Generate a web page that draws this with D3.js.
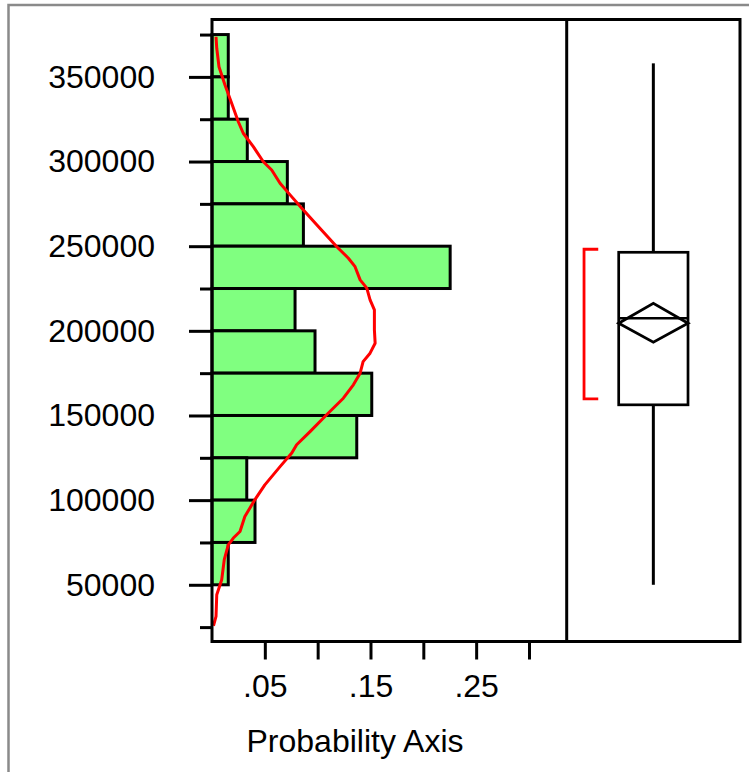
<!DOCTYPE html>
<html>
<head>
<meta charset="utf-8">
<script src="https://cdn.jsdelivr.net/npm/d3@7"></script>
<style>
  html, body { margin: 0; padding: 0; background: #fff; }
  svg { display: block; }
  text { font-family: "Liberation Sans", Arial, Helvetica, sans-serif; fill: #000; }
</style>
</head>
<body>
<script>
// ---------------- DATA ----------------
// Histogram bins (lower edge, upper edge) and probability (bar length)
const binLow  = [350000, 325000, 300000, 275000, 250000, 225000, 200000, 175000, 150000, 125000, 100000, 75000, 50000];
const binHigh = [375000, 350000, 325000, 300000, 275000, 250000, 225000, 200000, 175000, 150000, 125000, 100000, 75000];
const binProb = [0.0154, 0.0154, 0.0334, 0.0713, 0.0865, 0.2254, 0.0786, 0.0975, 0.1512, 0.1370, 0.0329, 0.0407, 0.0154];

// Density curve (value, density)
const curveValue = [373700, 366900, 356000, 345200, 335400, 323500, 316700, 308800, 299900, 295000,
                    287200, 280300, 272400, 262600, 249700, 242900, 237900, 230100, 225200, 218300,
                    212400, 200600, 192700, 186800, 181800, 175000, 168100, 160200, 150400, 140500,
                    132700, 127800, 119800, 109000, 100200, 90300, 81500, 77600, 73600, 64800,
                    53000, 44100, 31300, 25800];
const curveDensity = [0.0038, 0.0045, 0.0066, 0.0123, 0.0180, 0.0249, 0.0296, 0.0391, 0.0486, 0.0565,
                      0.0644, 0.0739, 0.0850, 0.0991, 0.1181, 0.1291, 0.1354, 0.1402, 0.1465, 0.1496,
                      0.1537, 0.1537, 0.1544, 0.1496, 0.1430, 0.1402, 0.1338, 0.1243, 0.1085, 0.0928,
                      0.0801, 0.0755, 0.0644, 0.0500, 0.0405, 0.0311, 0.0265, 0.0202, 0.0154, 0.0116,
                      0.0092, 0.0045, 0.0038, 0.0014];

// Outlier box plot summary
const boxStats = ["whiskerLow", "q1", "median", "q3", "whiskerHigh"];
const boxValues = [50000, 156300, 207500, 246400, 358000];
const meanValue = 204500;
const meanCI = [193300, 216300];
const shortestHalf = [159800, 248200];

// Axis ticks
const yMajorTicks = [50000, 100000, 150000, 200000, 250000, 300000, 350000];
const yMinorTicks = [25000, 75000, 125000, 175000, 225000, 275000, 325000, 375000];
const xTicks = [0.05, 0.10, 0.15, 0.20, 0.25, 0.30];
const xTickLabels = [".05", "", ".15", "", ".25", ""];
const xAxisTitle = "Probability Axis";

// ---------------- LAYOUT ----------------
const W = 749, H = 772;
const pLeft = 212, pTop = 19.5, pDivider = 566.7, pRight = 740, pBottom = 641.5;
const FS = 32;

const svg = d3.select("body").append("svg").attr("width", W).attr("height", H);

// outer gray frame
svg.append("rect")
  .attr("x", 8.5).attr("y", 5).attr("width", 900).attr("height", 900)
  .attr("fill", "none").attr("stroke", "#8a8a8a").attr("stroke-width", 2.5);

const y = d3.scaleLinear().domain([16500, 383900]).range([pBottom, pTop]);
const x = d3.scaleLinear().domain([0, 0.3357]).range([pLeft, pDivider]);
const bx = d3.scaleLinear().domain([0, 1]).range([pDivider, pRight]);

// histogram bars
svg.append("g").selectAll("rect")
  .data(binProb.map((p, i) => ({p, lo: binLow[i], hi: binHigh[i]})))
  .join("rect")
  .attr("x", x(0))
  .attr("y", d => y(d.hi))
  .attr("width", d => x(d.p) - x(0))
  .attr("height", d => y(d.lo) - y(d.hi))
  .attr("fill", "#80ff80")
  .attr("stroke", "#000")
  .attr("stroke-width", 3);

// density curve
const line = d3.line().x(d => x(d[1])).y(d => y(d[0]));
svg.append("path")
  .datum(curveValue.map((v, i) => [v, curveDensity[i]]))
  .attr("d", line)
  .attr("fill", "none")
  .attr("stroke", "#ff0000")
  .attr("stroke-width", 3)
  .attr("stroke-linejoin", "round");

// Y axis (major + minor ticks)
const yMajor = svg.append("g").attr("transform", `translate(${pLeft},0)`)
  .call(d3.axisLeft(y).tickValues(yMajorTicks).tickSize(23).tickPadding(34).tickFormat(d3.format("d")));
const yMinor = svg.append("g").attr("transform", `translate(${pLeft},0)`)
  .call(d3.axisLeft(y).tickValues(yMinorTicks).tickSize(12).tickFormat(""));
[yMajor, yMinor].forEach(g => {
  g.select(".domain").remove();
  g.selectAll(".tick line").attr("stroke", "#000").attr("stroke-width", 3);
});
yMajor.selectAll(".tick text").attr("font-size", FS).attr("font-family", null).attr("fill", "#000");

// X axis
const xAx = svg.append("g").attr("transform", `translate(0,${pBottom})`)
  .call(d3.axisBottom(x).tickValues(xTicks).tickSize(18).tickFormat((d, i) => xTickLabels[i]));
xAx.select(".domain").remove();
xAx.selectAll(".tick line").attr("stroke", "#000").attr("stroke-width", 3);
xAx.selectAll(".tick text").attr("font-size", FS).attr("font-family", null)
  .attr("fill", "#000").attr("y", 697 - pBottom).attr("dy", 0);

// axis title
svg.append("text")
  .attr("x", 355).attr("y", 752)
  .attr("text-anchor", "middle").attr("font-size", FS)
  .text(xAxisTitle);

// frames
svg.append("rect")
  .attr("x", pLeft).attr("y", pTop).attr("width", pRight - pLeft).attr("height", pBottom - pTop)
  .attr("fill", "none").attr("stroke", "#000").attr("stroke-width", 3);
svg.append("line")
  .attr("x1", pDivider).attr("x2", pDivider).attr("y1", pTop).attr("y2", pBottom)
  .attr("stroke", "#000").attr("stroke-width", 3);

// ---------------- BOX PLOT ----------------
const bs = Object.fromEntries(boxStats.map((k, i) => [k, boxValues[i]]));
const cx = bx(0.5), bl = bx(0.3), br = bx(0.7);
const bp = svg.append("g").attr("stroke", "#000").attr("fill", "none");
// whiskers
bp.append("line").attr("x1", cx).attr("x2", cx).attr("y1", y(bs.whiskerHigh)).attr("y2", y(bs.q3)).attr("stroke-width", 3);
bp.append("line").attr("x1", cx).attr("x2", cx).attr("y1", y(bs.q1)).attr("y2", y(bs.whiskerLow)).attr("stroke-width", 3);
// box
bp.append("rect").attr("x", bl).attr("y", y(bs.q3)).attr("width", br - bl).attr("height", y(bs.q1) - y(bs.q3)).attr("stroke-width", 2.7);
// median
bp.append("line").attr("x1", bl).attr("x2", br).attr("y1", y(bs.median)).attr("y2", y(bs.median)).attr("stroke-width", 2.5);
// mean diamond
bp.append("path")
  .attr("d", `M${bl},${y(meanValue)} L${cx},${y(meanCI[1])} L${br},${y(meanValue)} L${cx},${y(meanCI[0])} Z`)
  .attr("stroke-width", 2.8).attr("stroke-linejoin", "miter");
// shortest half bracket
const sx = bx(0.1), sx2 = bx(0.182);
svg.append("path")
  .attr("d", `M${sx2},${y(shortestHalf[1])} H${sx} V${y(shortestHalf[0])} H${sx2}`)
  .attr("fill", "none").attr("stroke", "#ff0000").attr("stroke-width", 2.8);
</script>
</body>
</html>
